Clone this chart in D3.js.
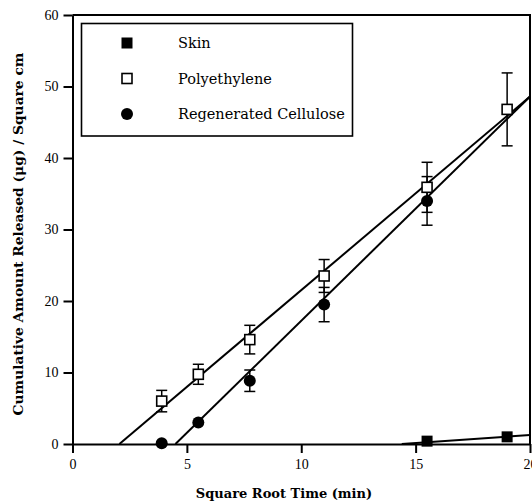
<!DOCTYPE html>
<html>
<head>
<meta charset="utf-8">
<script src="https://cdn.jsdelivr.net/npm/d3@7"></script>
<style>
  html, body { margin: 0; padding: 0; background: #fff; }
  svg { display: block; }
</style>
</head>
<body>
<svg id="chart" width="532" height="504"></svg>
<script>
// ---- data ----
const xTicks = [0, 5, 10, 15, 20];
const yTicks = [0, 10, 20, 30, 40, 50, 60];

const seriesNames = ["Skin", "Polyethylene", "Regenerated Cellulose"];

const skinX = [15.5, 19.0];
const skinY = [0.4, 1.0];

const polyX = [3.9, 5.5, 7.75, 11.0, 15.5, 19.0];
const polyY = [6.0, 9.75, 14.6, 23.5, 35.9, 46.8];
const polyErr = [1.5, 1.4, 2.0, 2.3, 3.5, 5.1];

const cellX = [3.9, 5.5, 7.75, 11.0, 15.5];
const cellY = [0.1, 3.0, 8.85, 19.5, 34.0];
const cellErr = [0, 0, 1.5, 2.4, 3.4];

// fitted regression lines: y = slope * x + intercept
const fitSlope = [0.223, 2.707, 3.135];
const fitIntercept = [-3.21, -5.55, -14.11];

// ---- layout ----
const svg = d3.select("#chart");
const pL = 72.5, pR = 530, pT = 15, pB = 444;
const x = d3.scaleLinear().domain([0, 20]).range([pL, pR]);
const y = d3.scaleLinear().domain([0, 60]).range([pB, pT]);

const g = svg.append("g");

// clip
svg.append("defs").append("clipPath").attr("id", "clip")
  .append("rect").attr("x", pL).attr("y", pT).attr("width", pR - pL).attr("height", pB - pT);

// frame top/right
g.append("line").attr("x1", pL).attr("x2", pR + 1).attr("y1", pT).attr("y2", pT)
  .attr("stroke", "#000").attr("stroke-width", 2);
g.append("line").attr("x1", pR).attr("x2", pR).attr("y1", pT).attr("y2", pB)
  .attr("stroke", "#000").attr("stroke-width", 2);

// axes
const yAxis = d3.axisLeft(y).tickValues(yTicks).tickSize(9).tickSizeOuter(0).tickPadding(5);
const xAxis = d3.axisBottom(x).tickValues(xTicks).tickSize(9).tickSizeOuter(0).tickPadding(6);

const ya = g.append("g").attr("transform", `translate(${pL},0)`).call(yAxis);
const xa = g.append("g").attr("transform", `translate(0,${pB})`).call(xAxis);
[ya, xa].forEach(a => {
  a.select(".domain").attr("stroke", "#000").attr("stroke-width", 2);
  a.selectAll(".tick line").attr("stroke", "#000").attr("stroke-width", 2);
  a.selectAll(".tick text").attr("fill", "#000")
    .style("font-family", "'Liberation Serif', serif").style("font-size", "14px");
});

// fitted lines
const lineGen = d3.line().x(d => x(d[0])).y(d => y(d[1]));
const plotG = g.append("g").attr("clip-path", "url(#clip)");
fitSlope.forEach((s, i) => {
  const b = fitIntercept[i];
  const x0 = -b / s;
  const pts = [[x0, 0], [20, s * 20 + b]];
  plotG.append("path").attr("d", lineGen(pts))
    .attr("fill", "none").attr("stroke", "#000").attr("stroke-width", 2);
});

// error bars
function errBars(xs, ys, es) {
  xs.forEach((xv, i) => {
    const e = es[i];
    if (!e) return;
    const cx = x(xv);
    const y1 = y(ys[i] + e), y2 = y(ys[i] - e);
    g.append("line").attr("x1", cx).attr("x2", cx).attr("y1", y1).attr("y2", y2)
      .attr("stroke", "#000").attr("stroke-width", 1.5);
    [y1, y2].forEach(yy => g.append("line").attr("x1", cx - 5.5).attr("x2", cx + 5.5)
      .attr("y1", yy).attr("y2", yy).attr("stroke", "#000").attr("stroke-width", 1.5));
  });
}
errBars(polyX, polyY, polyErr);
errBars(cellX, cellY, cellErr);

// markers
const sq = 11;
skinX.forEach((xv, i) => {
  g.append("rect").attr("x", x(xv) - sq / 2).attr("y", y(skinY[i]) - sq / 2)
    .attr("width", sq).attr("height", sq).attr("fill", "#000");
});
polyX.forEach((xv, i) => {
  g.append("rect").attr("x", x(xv) - 5).attr("y", y(polyY[i]) - 5)
    .attr("width", 10).attr("height", 10).attr("fill", "#fff")
    .attr("stroke", "#000").attr("stroke-width", 1.6);
});
cellX.forEach((xv, i) => {
  g.append("circle").attr("cx", x(xv)).attr("cy", y(cellY[i])).attr("r", 6).attr("fill", "#000");
});

// legend
const lg = g.append("g");
lg.append("rect").attr("x", 81.5).attr("y", 23.5).attr("width", 271).attr("height", 112.5)
  .attr("fill", "#fff").attr("stroke", "#000").attr("stroke-width", 1.6);
const legY = [43, 78.5, 114];
lg.append("rect").attr("x", 127 - 5.5).attr("y", legY[0] - 5.5).attr("width", 11).attr("height", 11).attr("fill", "#000");
lg.append("rect").attr("x", 127 - 5).attr("y", legY[1] - 5).attr("width", 10).attr("height", 10)
  .attr("fill", "#fff").attr("stroke", "#000").attr("stroke-width", 1.6);
lg.append("circle").attr("cx", 127).attr("cy", legY[2]).attr("r", 6).attr("fill", "#000");
seriesNames.forEach((n, i) => {
  lg.append("text").attr("x", 178).attr("y", legY[i] + 5).text(n)
    .style("font-family", "'DejaVu Serif', serif").style("font-size", "14.5px").attr("fill", "#000");
});

// axis titles
svg.append("text").attr("x", 284).attr("y", 498).attr("text-anchor", "middle")
  .style("font-family", "'DejaVu Serif', serif").style("font-weight", "bold").style("font-size", "13px")
  .text("Square Root Time (min)");
svg.append("text").attr("transform", "translate(23,234) rotate(-90)").attr("text-anchor", "middle")
  .style("font-family", "'DejaVu Serif', serif").style("font-weight", "bold").style("font-size", "13.8px")
  .text("Cumulative Amount Released (μg) / Square cm");
</script>
</body>
</html>
